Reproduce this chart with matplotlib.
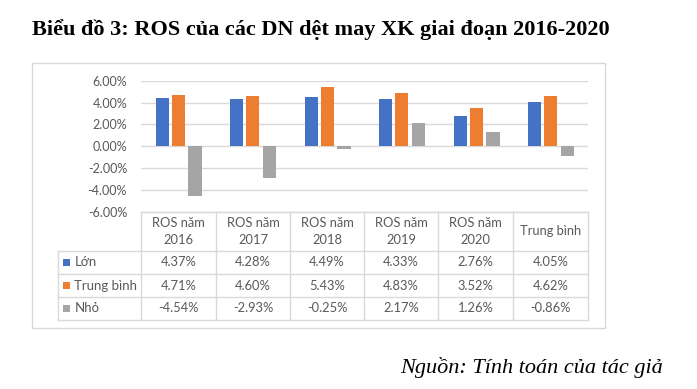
import matplotlib
matplotlib.use("Agg")
import matplotlib.pyplot as plt
from matplotlib.patches import Rectangle
from matplotlib.lines import Line2D

categories = ["ROS năm\n2016", "ROS năm\n2017", "ROS năm\n2018", "ROS năm\n2019", "ROS năm\n2020", "Trung bình"]
series_names = ["Lớn", "Trung bình", "Nhỏ"]
lon = [4.37, 4.28, 4.49, 4.33, 2.76, 4.05]
trung_binh = [4.71, 4.60, 5.43, 4.83, 3.52, 4.62]
nho = [-4.54, -2.93, -0.25, 2.17, 1.26, -0.86]
yticks = [6, 4, 2, 0, -2, -4, -6]
colors = ["#4472C4", "#ED7D31", "#A5A5A5"]

W, H = 697, 389
fig = plt.figure(figsize=(W / 100, H / 100), dpi=100)

def fx(x):
    return x / W

def fy(y):
    return 1 - y / H

TXT = "#595959"
GRID = "#D9D9D9"
FONT = ["Lato", "DejaVu Sans"]

# Title
fig.text(fx(32), fy(30), "Biểu đồ 3: ROS của các DN dệt may XK giai đoạn 2016-2020",
         family="Liberation Serif", fontweight="bold", fontsize=16, ha="left", va="center", color="black")
# Source
fig.text(fx(663), fy(368), "Nguồn: Tính toán của tác giả",
         family="Liberation Serif", style="italic", fontsize=16, ha="right", va="center", color="black")

# Outer chart border
fig.add_artist(Rectangle((fx(32), fy(328)), fx(605 - 32), (328 - 63) / H, transform=fig.transFigure,
                         fill=False, edgecolor=GRID, linewidth=1))

# Axes
left, right, top, bottom = 141, 588, 80.7, 211.7
ax = fig.add_axes([fx(left), fy(bottom), fx(right - left), (bottom - top) / H])
x = list(range(len(categories)))
offs = [-0.215, 0.0, 0.225]
width = 0.175
for vals, off, c in zip([lon, trung_binh, nho], offs, colors):
    ax.bar([i + off for i in x], vals, width=width, color=c, zorder=3)
ax.set_xlim(-0.5, len(categories) - 0.5)
ax.set_ylim(-6, 6)
ax.set_yticks(yticks)
ax.set_yticklabels([f"{v:.2f}%" for v in yticks], family=FONT, fontsize=9, color=TXT)
ax.tick_params(axis="y", length=0, pad=10)
ax.set_xticks([])
ax.grid(axis="y", color=GRID, linewidth=1, zorder=0)
for s in ax.spines.values():
    s.set_visible(False)
ax.patch.set_alpha(0)

# Table
col_edges = [141, 216, 290, 364, 438, 513, 588]
row_edges = [211.7, 251, 274, 297, 320]
tleft = 58

def hline(x0, x1, y):
    fig.add_artist(Line2D([fx(x0), fx(x1)], [fy(y), fy(y)], transform=fig.transFigure, color=GRID, linewidth=1))

def vline(x, y0, y1):
    fig.add_artist(Line2D([fx(x), fx(x)], [fy(y0), fy(y1)], transform=fig.transFigure, color=GRID, linewidth=1))

hline(col_edges[0], col_edges[-1], row_edges[0])
for y in row_edges[1:]:
    hline(tleft, col_edges[-1], y)
for xe in col_edges:
    vline(xe, row_edges[0], row_edges[-1])
vline(tleft, row_edges[1], row_edges[-1])

for i, cat in enumerate(categories):
    cx = (col_edges[i] + col_edges[i + 1]) / 2
    cy = (row_edges[0] + row_edges[1]) / 2
    fig.text(fx(cx), fy(cy), cat, family=FONT, fontsize=9.3, color=TXT, ha="center", va="center",
             linespacing=1.5, multialignment="center")

for r, (name, vals, c) in enumerate(zip(series_names, [lon, trung_binh, nho], colors)):
    cy = (row_edges[r + 1] + row_edges[r + 2]) / 2
    fig.add_artist(Rectangle((fx(62.5), fy(cy + 3.5)), fx(7), 7 / H, transform=fig.transFigure,
                             facecolor=c, edgecolor="none"))
    fig.text(fx(74.5), fy(cy), name, family=FONT, fontsize=9.5, color=TXT, ha="left", va="center")
    for i, v in enumerate(vals):
        cx = (col_edges[i] + col_edges[i + 1]) / 2
        fig.text(fx(cx), fy(cy), f"{v:.2f}%", family=FONT, fontsize=9.3, color=TXT, ha="center", va="center")

fig.savefig("out.png", dpi=100, facecolor="white")
